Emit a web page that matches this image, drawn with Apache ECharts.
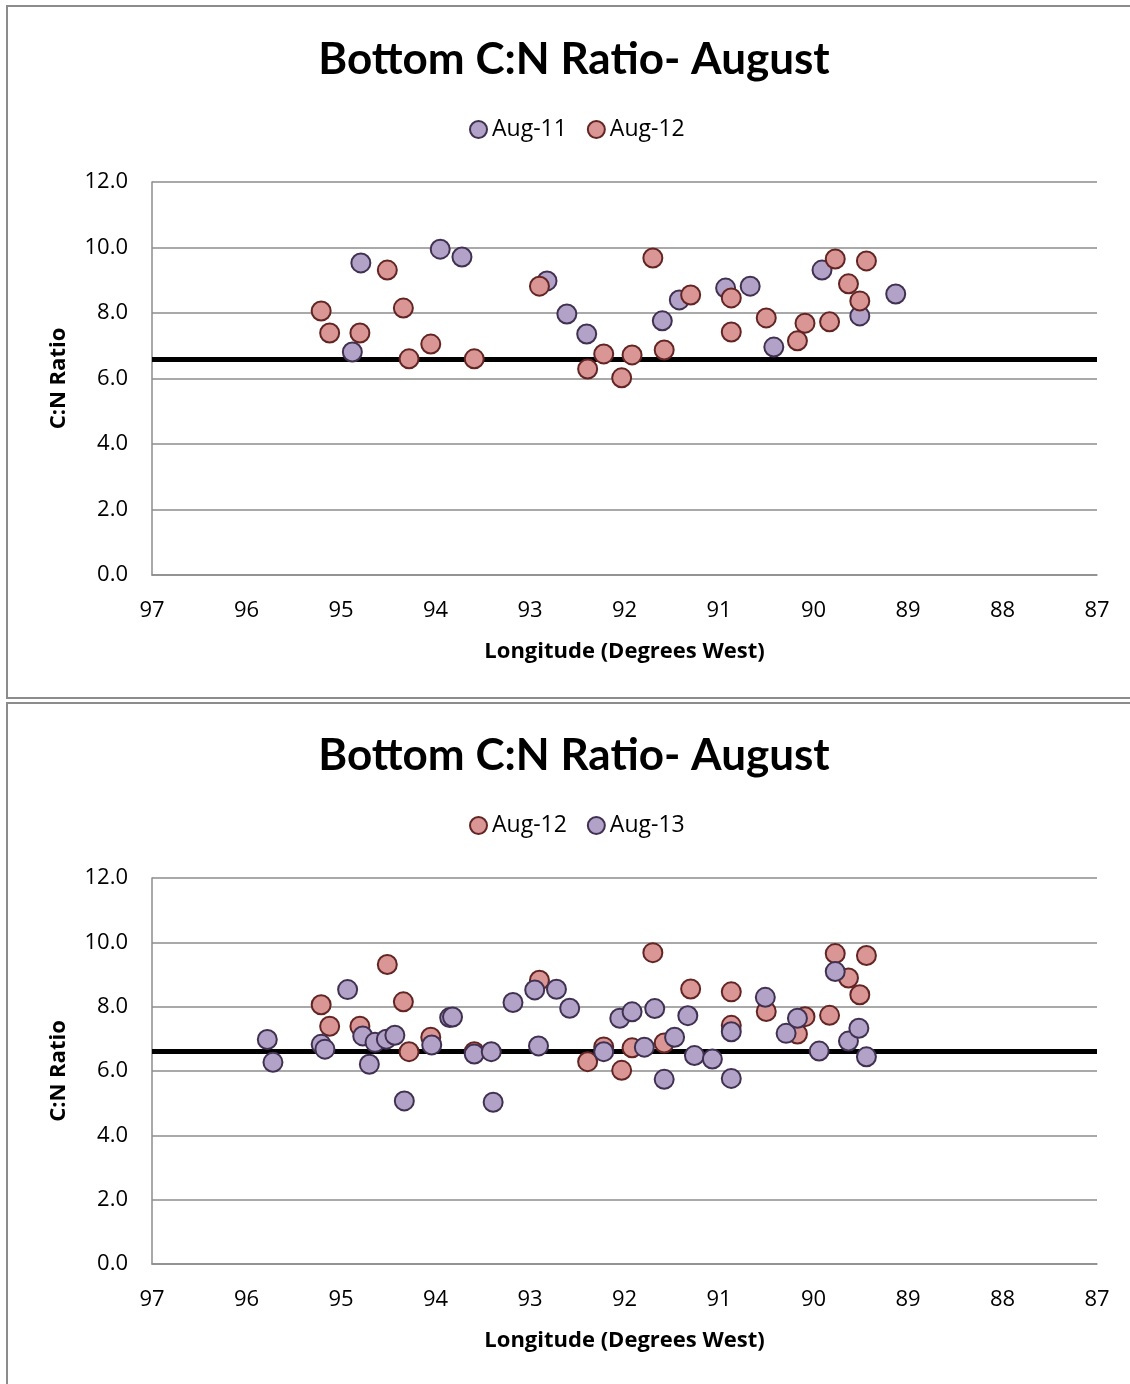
<!DOCTYPE html>
<html>
<head>
<meta charset="utf-8">
<script src="https://cdn.jsdelivr.net/npm/echarts@6/dist/echarts.min.js"></script>
<style>
html,body{margin:0;padding:0;background:#fff;overflow:hidden;width:1130px;height:1384px;}
.chart{position:absolute;left:0;width:1130px;}
.frame{position:absolute;border:2px solid #8c8c8c;pointer-events:none;box-sizing:border-box;}
</style>
</head>
<body>
<div id="c1" class="chart" style="top:0;height:700px;"></div>
<div id="c2" class="chart" style="top:697px;height:687px;"></div>
<div class="frame" style="left:6px;top:5px;width:1140px;height:694px;"></div>
<div class="frame" style="left:6px;top:702px;width:1140px;height:700px;"></div>
<script>
// Data: [longitude (degrees west), C:N ratio]
const aug11 = [
  [94.79, 9.53], [94.88, 6.81], [93.95, 9.95], [93.72, 9.71], [92.82, 8.98],
  [92.61, 7.97], [92.40, 7.36], [91.60, 7.76], [91.42, 8.40], [90.93, 8.76],
  [90.67, 8.82], [90.42, 6.96], [89.91, 9.31], [89.51, 7.91], [89.13, 8.58]
];
const aug12 = [
  [95.21, 8.06], [95.12, 7.39], [94.80, 7.39], [94.51, 9.31], [94.34, 8.15],
  [94.28, 6.60], [94.05, 7.05], [93.59, 6.60], [92.90, 8.82], [92.39, 6.29],
  [92.22, 6.75], [92.03, 6.02], [91.92, 6.72], [91.70, 9.68], [91.58, 6.87],
  [91.30, 8.55], [90.87, 8.46], [90.87, 7.42], [90.50, 7.85], [90.17, 7.15],
  [90.09, 7.69], [89.83, 7.73], [89.77, 9.65], [89.63, 8.89], [89.51, 8.37],
  [89.44, 9.59]
];
const aug13 = [
  [95.78, 6.98], [95.72, 6.27], [94.93, 8.53], [95.21, 6.83], [95.17, 6.68],
  [94.77, 7.09], [94.64, 6.89], [94.70, 6.21], [94.52, 6.99], [94.43, 7.11],
  [94.33, 5.07], [94.04, 6.81], [93.85, 7.66], [93.82, 7.68], [93.59, 6.53],
  [93.41, 6.60], [93.39, 5.03], [93.18, 8.13], [92.95, 8.52], [92.72, 8.54],
  [92.58, 7.95], [92.91, 6.78], [92.22, 6.60], [92.05, 7.64], [91.92, 7.84],
  [91.79, 6.74], [91.68, 7.94], [91.58, 5.74], [91.47, 7.05], [91.33, 7.72],
  [91.26, 6.48], [91.07, 6.37], [90.87, 7.22], [90.87, 5.77], [90.51, 8.29],
  [90.29, 7.17], [90.17, 7.64], [89.94, 6.62], [89.77, 9.09], [89.63, 6.93],
  [89.52, 7.33], [89.44, 6.44]
];
const referenceRatio = 6.6;
const titleText = 'Bottom C:N Ratio- August';
const xName = 'Longitude (Degrees West)';
const yName = 'C:N Ratio';
const xMin = 87, xMax = 97, xStep = 1;
const yMin = 0, yMax = 12, yStep = 2;

const PURPLE = {color:'#B3A2C7', borderColor:'#403152', borderWidth:2, opacity:1};
const RED = {color:'#D99694', borderColor:'#632523', borderWidth:2, opacity:1};
const FONT = 'Open Sans';

function series(name, data, style, withLine) {
  const s = {
    name: name, type: 'scatter', data: data, symbol: 'circle', symbolSize: 19,
    itemStyle: style, emphasis: {disabled: true}, z: 3
  };
  if (withLine) {
    s.markLine = {
      silent: true, symbol: ['none','none'], label: {show:false},
      lineStyle: {color:'#000', width:5, type:'solid'},
      data: [{yAxis: referenceRatio}], z: 2, animation:false
    };
  }
  return s;
}

function makeOption(gridTop, gridHeight, seriesList, legendNames) {
  return {
    animation: false,
    title: {
      text: titleText, left: 569, textAlign: 'center', top: gridTop - 149,
      textStyle: {fontFamily:'Lato', fontWeight:'bold', fontSize:44, color:'#000'}
    },
    legend: {
      data: legendNames, top: gridTop - 69, left: 464, itemGap: 20,
      itemWidth: 17, itemHeight: 17, icon: 'circle',
      textStyle: {fontFamily: FONT, fontSize: 23, color:'#000'}
    },
    grid: {left: 152, right: 33, top: gridTop, height: gridHeight},
    xAxis: {
      type: 'value', min: xMin, max: xMax, interval: xStep, inverse: true,
      name: xName, nameLocation: 'middle', nameGap: 66,
      nameTextStyle: {fontFamily: FONT, fontWeight:'bold', fontSize: 22, color:'#000'},
      axisLine: {show:true, lineStyle:{color:'#8c8c8c', width:1.5}},
      axisTick: {show:false},
      splitLine: {show:false},
      axisLabel: {fontFamily: FONT, fontSize: 22, color:'#000', margin: 25}
    },
    yAxis: {
      type: 'value', min: yMin, max: yMax, interval: yStep,
      name: yName, nameLocation: 'middle', nameGap: 82,
      nameTextStyle: {fontFamily: FONT, fontWeight:'bold', fontSize: 22, color:'#000'},
      axisLine: {show:true, lineStyle:{color:'#8c8c8c', width:1.5}},
      axisTick: {show:false},
      splitLine: {show:true, lineStyle:{color:'#8c8c8c', width:1.5}},
      axisLabel: {fontFamily: FONT, fontSize: 22, color:'#000', margin: 24,
                  formatter: v => v.toFixed(1)}
    },
    series: seriesList
  };
}

const c1 = echarts.init(document.getElementById('c1'), null, {renderer:'canvas'});
c1.setOption(makeOption(182, 393,
  [series('Aug-11', aug11, PURPLE, true), series('Aug-12', aug12, RED, false)],
  ['Aug-11', 'Aug-12']));

const c2 = echarts.init(document.getElementById('c2'), null, {renderer:'canvas'});
c2.setOption(makeOption(181, 386,
  [series('Aug-12', aug12, RED, true), series('Aug-13', aug13, PURPLE, false)],
  ['Aug-12', 'Aug-13']));
</script>
</body>
</html>
